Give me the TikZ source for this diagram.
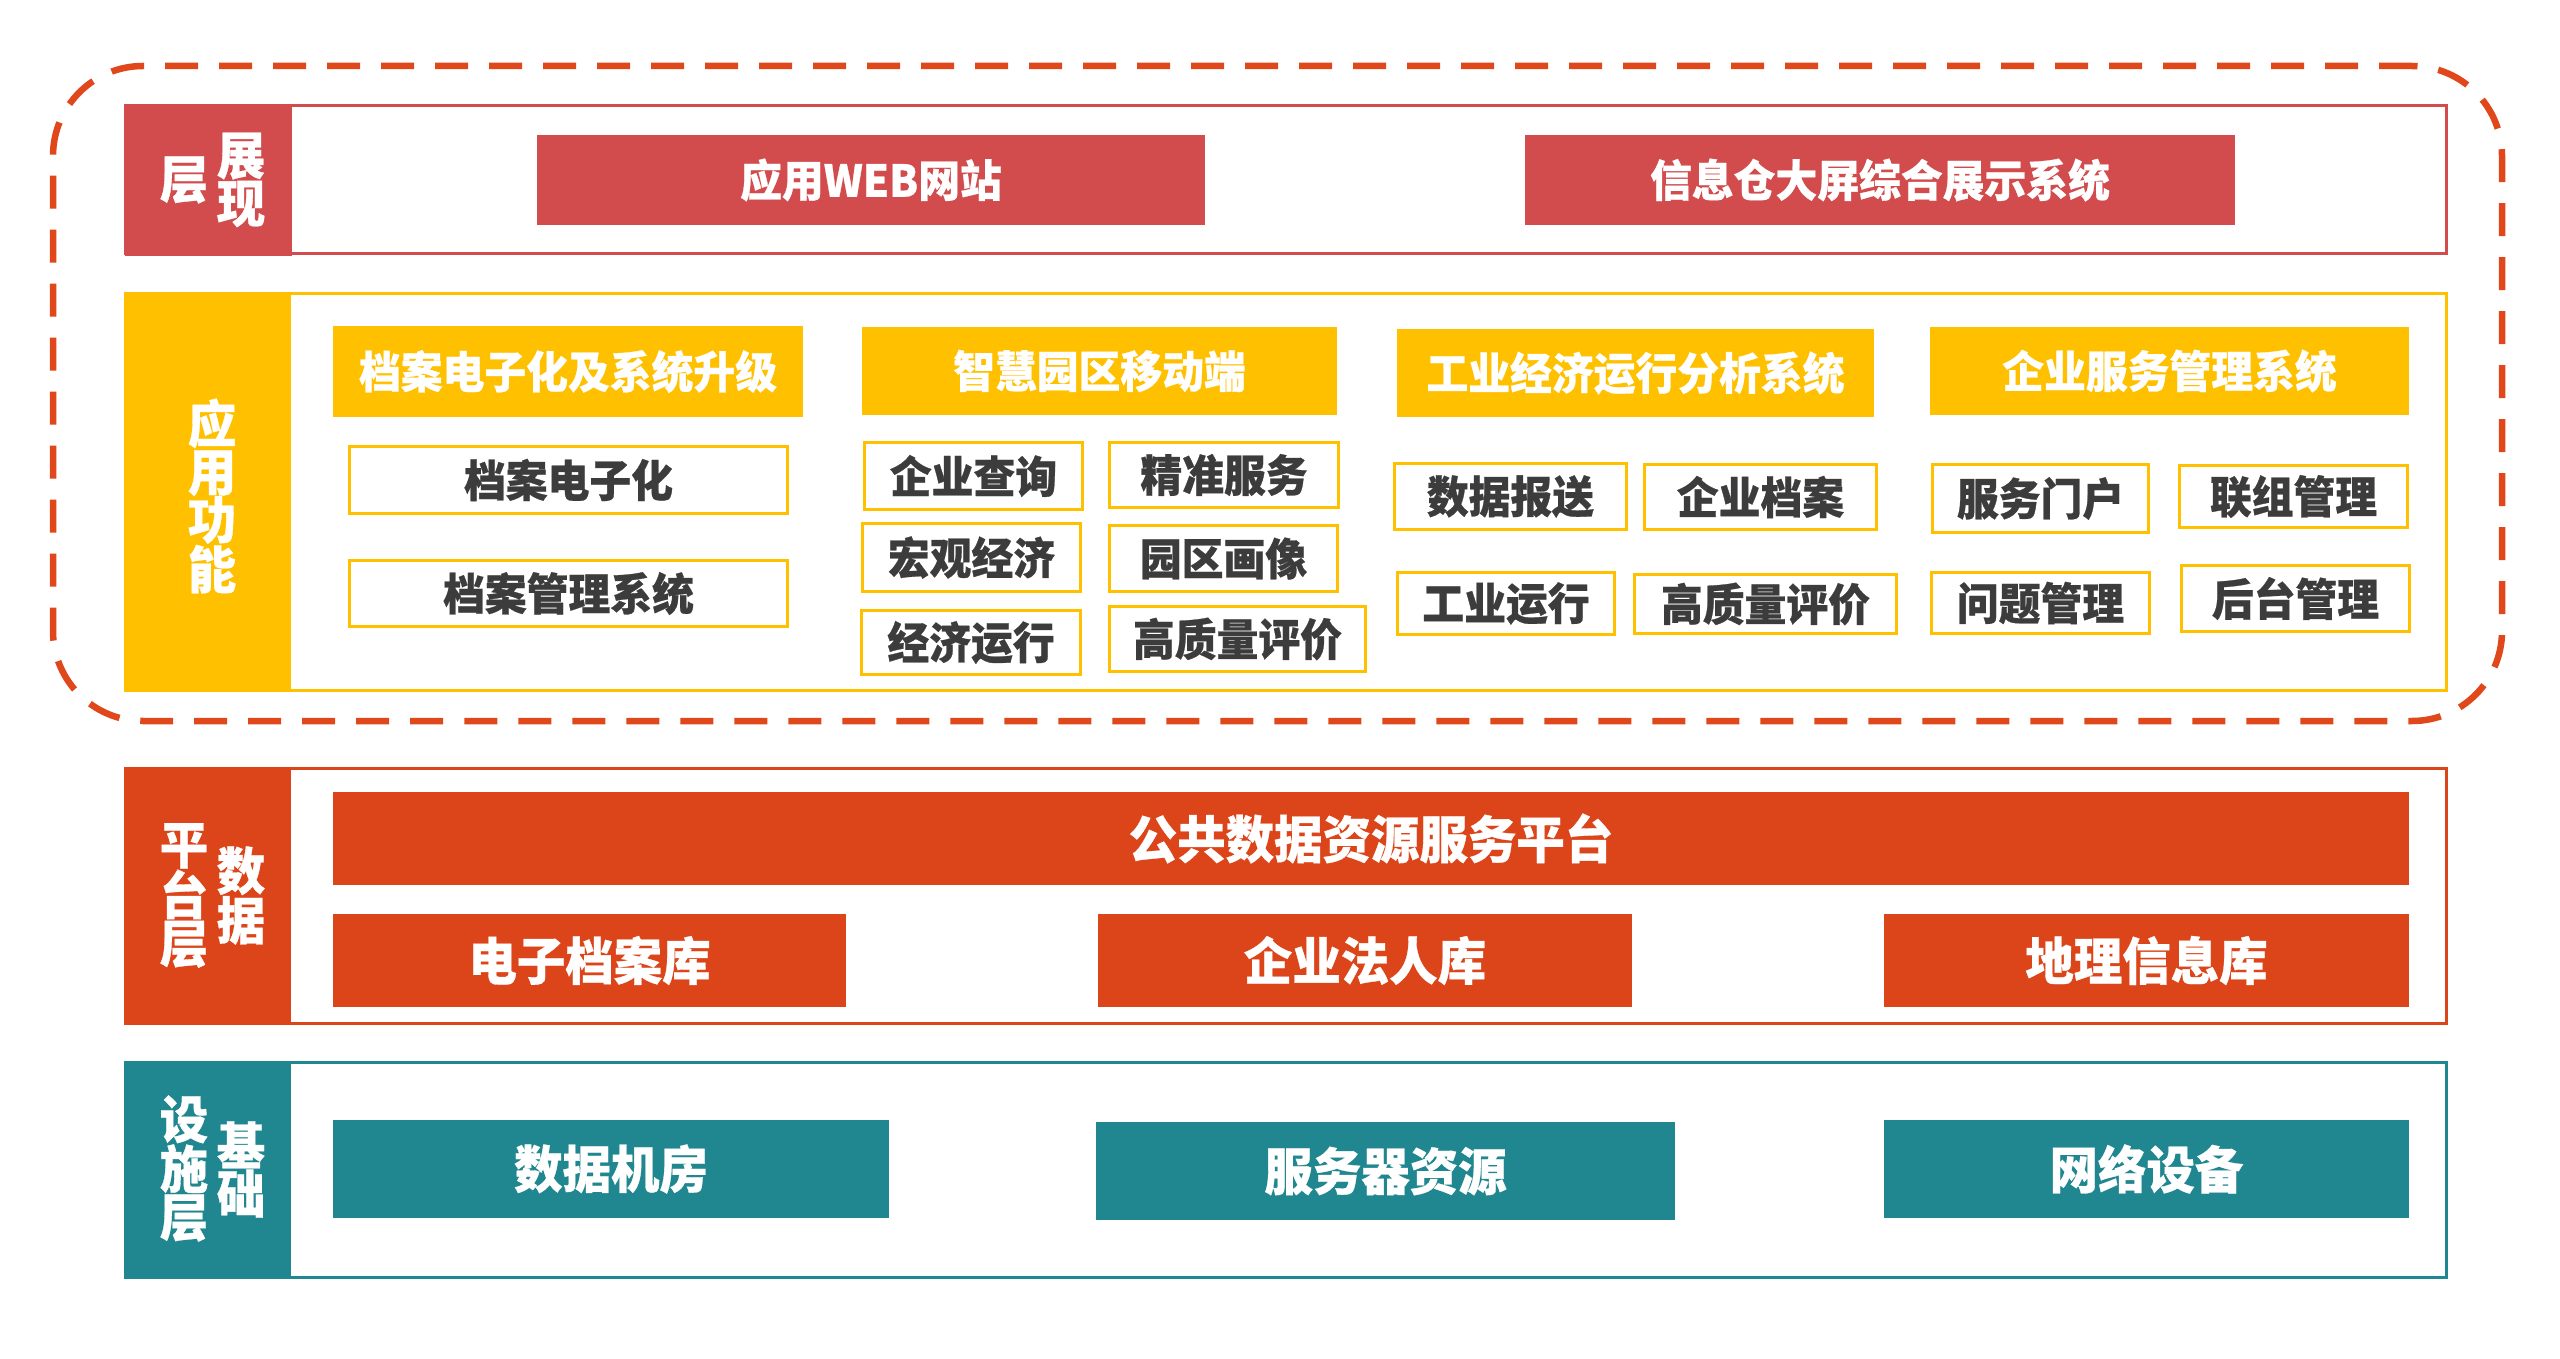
\documentclass[tikz,border=0pt]{standalone}
\usepackage{fontspec}
\setmainfont{Noto Sans CJK SC}[FakeStretch=0.95, BoldFeatures={FakeBold=0.6}]
\definecolor{cRed}{HTML}{D24B4D}
\definecolor{cYel}{HTML}{FFC000}
\definecolor{cOra}{HTML}{DC4519}
\definecolor{cTeal}{HTML}{208790}
\definecolor{cDash}{HTML}{E0481B}
\definecolor{cTxt}{HTML}{3C3C3C}
\begin{document}
\begin{tikzpicture}[x=1pt,y=-1pt,
  sz/.style 2 args={minimum width=#1pt, minimum height=#2pt},
  fillbox/.style={fill=#1, draw=none, inner sep=0pt, text=white,
    font=\fontsize{44}{44}\selectfont\bfseries},
  bigbox/.style={fill=#1, draw=none, inner sep=0pt, text=white,
    font=\fontsize{51}{51}\selectfont\bfseries},
  outbox/.style={fill=white, draw=cYel, line width=3.5pt, inner sep=0pt, text=cTxt,
    font=\fontsize{44}{44}\selectfont\bfseries},
  frame/.style={draw=#1, line width=3pt, fill=white, inner sep=0pt},
  lblfill/.style={fill=#1, draw=none, inner sep=0pt},
  lbl/.style={text=white, inner sep=0pt, align=center,
    font=\fontsize{51}{48}\selectfont\bfseries},
  zone/.style={draw=cDash, line width=6.5pt, dash pattern=on 33pt off 21pt,
    rounded corners=90pt, inner sep=0pt}
]
\useasboundingbox[fill=white] (0,0) rectangle (2560,1359);

% dashed zone
\node[zone, sz={2449}{655}] (zoneBox) at (1277.5,393.5) {};

% ===== display layer =====
\node[frame=cRed, sz={2321}{148}] (dispF) at (1285.5,180) {};
\node[lblfill=cRed, sz={167}{150}] (dispL) at (208.5,181) {};
\node[lbl] (dispT1) at (184,180) {层};
\node[lbl] (dispT2) at (241,180) {展\\现};
\node[fillbox=cRed, sz={668}{90}] (web) at (871,180) {应用WEB网站};
\node[fillbox=cRed, sz={710}{90}] (screen) at (1880,180) {信息仓大屏综合展示系统};

% ===== application layer =====
\node[frame=cYel, sz={2321}{397}] (appF) at (1285.5,491.5) {};
\node[lblfill=cYel, sz={166}{399}] (appL) at (208,492.5) {};
\node[lbl] (appT) at (212,496) {应\\用\\功\\能};

\node[fillbox=cYel, sz={470}{91}] (h1) at (568,371.5) {档案电子化及系统升级};
\node[fillbox=cYel, sz={475}{88}] (h2) at (1099.5,371) {智慧园区移动端};
\node[fillbox=cYel, sz={477}{88}] (h3) at (1635.5,373) {工业经济运行分析系统};
\node[fillbox=cYel, sz={479}{88}] (h4) at (2169.5,371) {企业服务管理系统};

\node[outbox, sz={438}{67}] (a1) at (568.5,480) {档案电子化};
\node[outbox, sz={438}{66}] (a2) at (568.5,593.5) {档案管理系统};

\node[outbox, sz={218}{67}] (b1) at (973.5,476) {企业查询};
\node[outbox, sz={229}{65}] (b2) at (1224,475) {精准服务};
\node[outbox, sz={218}{68}] (b3) at (971.5,557.5) {宏观经济};
\node[outbox, sz={228}{66}] (b4) at (1223.5,558.5) {园区画像};
\node[outbox, sz={219}{64}] (b5) at (971,642.5) {经济运行};
\node[outbox, sz={256}{65}] (b6) at (1237.5,639) {高质量评价};

\node[outbox, sz={232}{66}] (c1) at (1510.5,496.5) {数据报送};
\node[outbox, sz={232}{65}] (c2) at (1760.5,497) {企业档案};
\node[outbox, sz={217}{62}] (c3) at (1506,603.5) {工业运行};
\node[outbox, sz={262}{59}] (c4) at (1765.5,604) {高质量评价};

\node[outbox, sz={216}{68}] (d1) at (2040.5,498.5) {服务门户};
\node[outbox, sz={228}{62}] (d2) at (2293.5,496.5) {联组管理};
\node[outbox, sz={218}{61}] (d3) at (2040.5,603) {问题管理};
\node[outbox, sz={228}{66}] (d4) at (2295.5,598.5) {后台管理};

% ===== data layer =====
\node[frame=cOra, sz={2321}{255}] (dataF) at (1285.5,895.5) {};
\node[lblfill=cOra, sz={166}{256}] (dataL) at (208,896) {};
\node[lbl] (dataT1) at (184,895.5) {平\\台\\层};
\node[lbl] (dataT2) at (241,895.5) {数\\据};
\node[bigbox=cOra, sz={2076}{93}] (pub) at (1371,838.5) {公共数据资源服务平台};
\node[bigbox=cOra, sz={513}{93}] (db1) at (589.5,960.5) {电子档案库};
\node[bigbox=cOra, sz={534}{93}] (db2) at (1365,960.5) {企业法人库};
\node[bigbox=cOra, sz={525}{93}] (db3) at (2146.5,960.5) {地理信息库};

% ===== infrastructure layer =====
\node[frame=cTeal, sz={2321}{215}] (infF) at (1285.5,1169.5) {};
\node[lblfill=cTeal, sz={166}{215}] (infL) at (208,1169.5) {};
\node[lbl] (infT1) at (184,1168.5) {设\\施\\层};
\node[lbl] (infT2) at (241,1169.5) {基\\础};
\node[bigbox=cTeal, sz={556}{98}] (i1) at (611,1169) {数据机房};
\node[bigbox=cTeal, sz={579}{98}] (i2) at (1385.5,1171) {服务器资源};
\node[bigbox=cTeal, sz={525}{98}] (i3) at (2146.5,1169) {网络设备};
\end{tikzpicture}
\end{document}
